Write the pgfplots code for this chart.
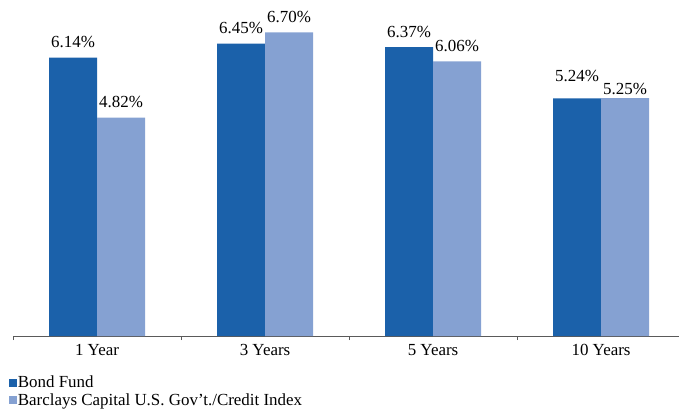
\documentclass[border=0pt]{standalone}
\usepackage{pgfplots}
\usepackage{pgfplotstable}
\pgfplotsset{compat=1.18}
\usepackage{fontspec}
\setmainfont{Liberation Serif}

\definecolor{fundblue}{RGB}{27,97,170}
\definecolor{indexblue}{RGB}{133,161,210}
\definecolor{axisgray}{RGB}{90,90,90}

% period index, annualised return (%), label nudge (bp)
\pgfplotstableread{
x y dy
0 6.14 0
1 6.45 0
2 6.37 0
3 5.24 7
}\fundtable
\pgfplotstableread{
x y dy
0 4.82 0
1 6.70 0
2 6.06 0
3 5.25 -6
}\indextable

\begin{document}
\begin{tikzpicture}[x=1bp,y=1bp]
\path[use as bounding box] (0,0) rectangle (679,409);
\begin{axis}[
  at={(13bp,73bp)}, anchor=south west,
  scale only axis, width=666bp, height=335bp,
  xmin=-0.5, xmax=3.464, ymin=0, ymax=7.39,
  ybar=0pt, bar width=48bp,
  axis x line=bottom, axis y line=none,
  x axis line style={-, draw=axisgray, line width=0.9pt},
  tick align=outside,
  xtick={-0.5,0.5,1.5,2.5}, xticklabels={},
  major tick length=4bp,
  tick style={draw=axisgray, line width=0.9pt},
  extra x ticks={0,1,2,3},
  extra x tick labels={1 Year,3 Years,5 Years,10 Years},
  extra x tick style={major tick length=0pt},
  xticklabel style={font=\fontsize{17}{20}\selectfont, yshift=-5bp},
  nodes near coords={\pgfmathprintnumber[fixed,fixed zerofill,precision=2]{\pgfplotspointmeta}\%},
  /pgf/number format/assume math mode=true,
  nodes near coords style={font=\fontsize{17}{20}\selectfont, anchor=base, yshift=10bp},
  visualization depends on={\thisrow{dy} \as \dy},
  every node near coord/.append style={yshift=\dy bp},
  legend style={draw=none, fill=none, at={(axis description cs:-0.011,-0.11)}, anchor=north west,
    font=\fontsize{17}{20}\selectfont, legend cell align=left, row sep=2bp,
    nodes={inner xsep=1bp, inner ysep=1bp}},
]
\addplot[fill=fundblue, draw=none,
  legend image code/.code={\fill[fundblue] (0bp,-4bp) rectangle (8bp,4bp);}]
  table[x=x, y=y] {\fundtable};
\addplot[fill=indexblue, draw=none,
  legend image code/.code={\fill[indexblue] (0bp,-4bp) rectangle (8bp,4bp);}]
  table[x=x, y=y] {\indextable};
\legend{Bond Fund, Barclays Capital U.S. Gov't./Credit Index}
\end{axis}
\end{tikzpicture}
\end{document}
